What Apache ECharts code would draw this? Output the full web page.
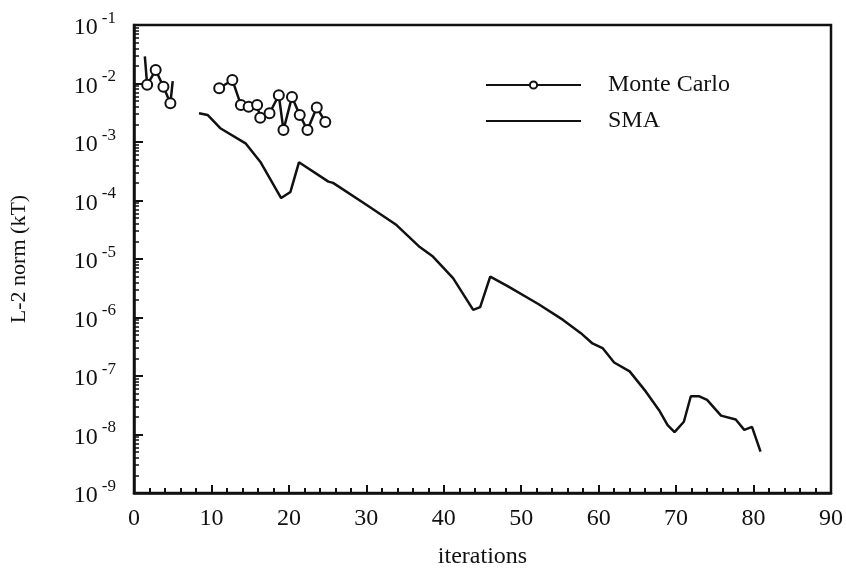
<!DOCTYPE html>
<html>
<head>
<meta charset="utf-8">
<script src="https://cdn.jsdelivr.net/npm/echarts@6/dist/echarts.min.js"></script>
<style>
  html, body { margin: 0; padding: 0; background: #fff; }
  #chart { width: 846px; height: 582px; }
</style>
</head>
<body>
<div id="chart"></div>
<script>
// SMA curve
const smaIter = [8.4, 9.5, 11.2, 14.4, 16.3, 19.0, 20.2, 21.3, 25.1, 25.7, 30.1, 33.9, 36.9, 38.6, 41.2, 43.8, 44.7, 46.0, 48.3, 52.2, 55.4, 57.7, 59.2, 60.5, 62.0, 64.0, 66.1, 67.8, 68.9, 69.8, 71.0, 71.9, 73.0, 74.0, 75.8, 77.7, 78.8, 79.8, 80.9]
const smaNorm = [3.1e-3, 2.9e-3, 1.7e-3, 9.5e-4, 4.6e-4, 1.1e-4, 1.4e-4, 4.5e-4, 2.1e-4, 2.0e-4, 8.3e-5, 3.8e-5, 1.6e-5, 1.1e-5, 4.7e-6, 1.35e-6, 1.5e-6, 5.0e-6, 3.4e-6, 1.7e-6, 9.1e-7, 5.4e-7, 3.6e-7, 3.0e-7, 1.7e-7, 1.2e-7, 5.4e-8, 2.6e-8, 1.45e-8, 1.1e-8, 1.65e-8, 4.5e-8, 4.5e-8, 3.9e-8, 2.1e-8, 1.8e-8, 1.2e-8, 1.35e-8, 5.1e-9]

// Monte Carlo, two runs (null = gap)
const mcIter = [1.4, 1.7, 2.8, 3.8, 4.7, 5.0, null, 11.0, 12.7, 13.8, 14.8, 15.9, 16.3, 17.5, 18.7, 19.3, 20.4, 21.4, 22.4, 23.6, 24.7]
const mcNorm = [0.029, 0.0095, 0.017, 0.0088, 0.0046, 0.011, null, 0.0083, 0.0115, 0.0043, 0.0040, 0.0043, 0.0026, 0.0031, 0.0063, 0.0016, 0.0059, 0.0029, 0.0016, 0.0039, 0.0022]
const mcMarked = [0, 1, 1, 1, 1, 0, 0, 1, 1, 1, 1, 1, 1, 1, 1, 1, 1, 1, 1, 1, 1]

const ink = '#111'
const serif = '"Liberation Serif", "DejaVu Serif", serif'

const chart = echarts.init(document.getElementById('chart'))

const mcData = mcIter.map((x, i) => x === null
  ? { value: ['-', '-'] }
  : { value: [x, mcNorm[i]], symbol: mcMarked[i] ? 'emptyCircle' : 'none' })

chart.setOption({
  animation: false,
  backgroundColor: '#fff',
  textStyle: { fontFamily: serif, color: ink },
  grid: { left: 133, right: 14, top: 25, bottom: 89, show: true, borderColor: ink, borderWidth: 2.5, backgroundColor: 'transparent' },
  legend: {
    orient: 'vertical', left: 480, top: 68, itemWidth: 95, itemHeight: 9, itemGap: 12,
    textStyle: { fontFamily: serif, fontSize: 24, color: ink, padding: [0, 0, 0, 22] },
    data: ['Monte Carlo', { name: 'SMA', itemStyle: { opacity: 0 } }],
  },
  xAxis: {
    type: 'value', min: 0, max: 90, interval: 10,
    name: 'iterations', nameLocation: 'middle', nameGap: 52,
    nameTextStyle: { fontFamily: serif, fontSize: 24, color: ink },
    axisLine: { lineStyle: { color: ink, width: 2.5 } },
    axisTick: { inside: true, length: 8, lineStyle: { color: ink, width: 2 } },
    minorTick: { show: true, splitNumber: 5, length: 5, lineStyle: { color: ink, width: 2 } },
    axisLabel: { fontFamily: serif, fontSize: 24, color: ink, margin: 14 },
    splitLine: { show: false },
  },
  yAxis: {
    type: 'log', logBase: 10, min: 1e-9, max: 1e-1,
    name: 'L-2 norm (kT)', nameLocation: 'middle', nameGap: 104, nameRotate: 90,
    nameTextStyle: { fontFamily: serif, fontSize: 22, color: ink },
    axisLine: { show: true, lineStyle: { color: ink, width: 2.5 } },
    axisTick: { inside: true, length: 9, lineStyle: { color: ink, width: 2 } },
    minorTick: { show: true, splitNumber: 9, length: 5, lineStyle: { color: ink, width: 1.5 } },
    axisLabel: {
      margin: 18,
      formatter: v => '{b|10}{e|' + Math.round(Math.log10(v)) + '}',
      rich: {
        b: { fontFamily: serif, fontSize: 24, color: ink, lineHeight: 30, verticalAlign: 'bottom' },
        e: { fontFamily: serif, fontSize: 17, color: ink, verticalAlign: 'top', padding: [0, 0, 0, 4] },
      },
    },
    splitLine: { show: false },
  },
  series: [
    {
      name: 'Monte Carlo', type: 'line', data: mcData, connectNulls: false,
      symbol: 'emptyCircle', symbolSize: 10, showAllSymbol: true,
      lineStyle: { color: ink, width: 2.5 },
      itemStyle: { color: ink, borderColor: ink, borderWidth: 2.5 },
    },
    {
      name: 'SMA', type: 'line', symbol: 'none',
      data: smaIter.map((x, i) => [x, smaNorm[i]]),
      lineStyle: { color: ink, width: 2.5 },
      itemStyle: { color: ink },
    },
  ],
})
</script>
</body>
</html>
